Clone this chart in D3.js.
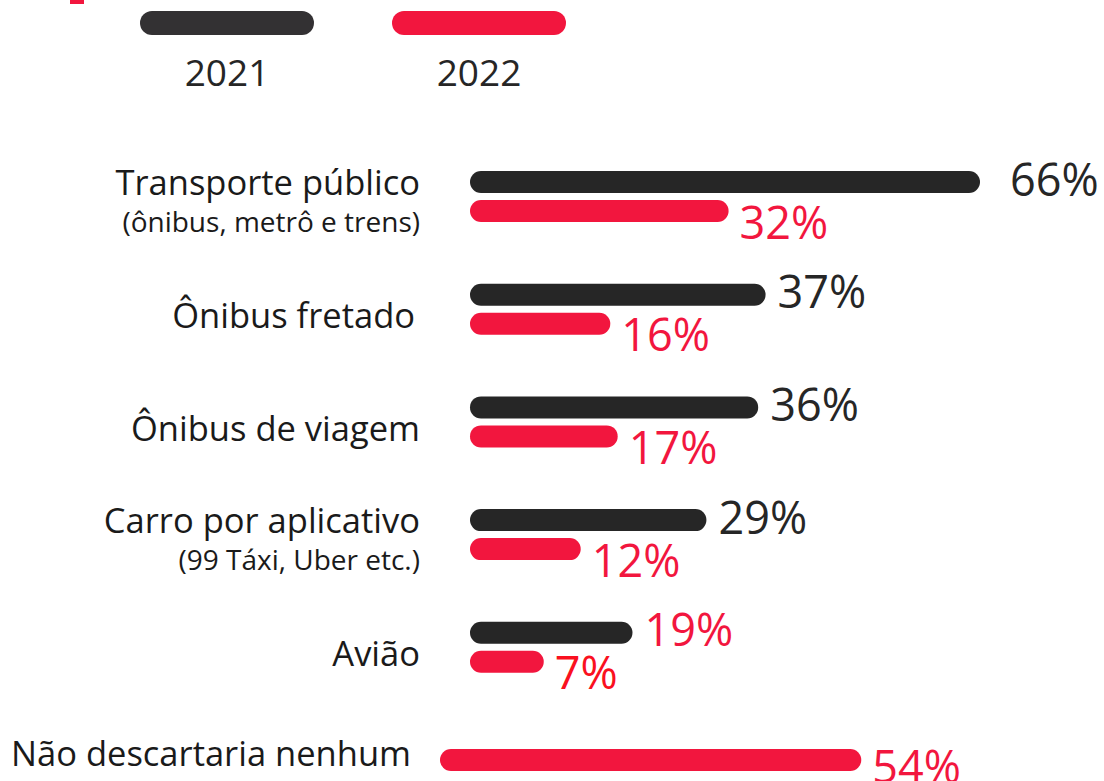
<!DOCTYPE html>
<html><head><meta charset="utf-8">
<script src="https://cdn.jsdelivr.net/npm/d3@7"></script>
<style>html,body{margin:0;padding:0;background:#fff;}svg{display:block;}</style>
</head><body>
<script>
const categories = ["Transporte público", "Ônibus fretado", "Ônibus de viagem", "Carro por aplicativo", "Avião", "Não descartaria nenhum"];
const subtitles = ["(ônibus, metrô e trens)", "", "", "(99 Táxi, Uber etc.)", "", ""];
const values2021 = [66, 37, 36, 29, 19, null];
const values2022 = [32, 16, 17, 12, 7, 54];
const years = ["2021", "2022"];

const W = 1104, H = 781;
const DARK = "#262626", RED = "#f2163e", TEXT = "#1a1a1a";
const FONT = "'Open Sans', 'Noto Sans', sans-serif";
const svg = d3.select("body").append("svg").attr("width", W).attr("height", H);

// small red mark at top-left
svg.append("rect").attr("x", 70).attr("y", 0).attr("width", 14).attr("height", 4).attr("fill", RED);

// legend
const legX = d3.scalePoint().domain(years).range([227, 479]);
const legColor = d3.scaleOrdinal().domain(years).range(["#333133", RED]);
const leg = svg.append("g").selectAll("g").data(years).join("g");
leg.append("line")
  .attr("x1", d => legX(d) - 75).attr("x2", d => legX(d) + 75)
  .attr("y1", 23).attr("y2", 23)
  .attr("stroke", d => legColor(d)).attr("stroke-width", 24).attr("stroke-linecap", "round");
leg.append("text").attr("x", d => legX(d)).attr("y", 86)
  .attr("text-anchor", "middle").attr("font-family", FONT).attr("font-size", 37)
  .attr("fill", "#262626").text(d => d);

// scales
const y = d3.scalePoint().domain(categories).range([196.5, 760]);
const x = d3.scaleLinear().domain([0, 66]).range([0, 488]);
const lastCat = categories[categories.length - 1];
const x0 = c => c === lastCat ? 451 : 481;
const BW = 22, OFF = 14.5;

const rows = categories.map((c, i) => ({ c, sub: subtitles[i], v1: values2021[i], v2: values2022[i], i }));

const g = svg.append("g");
// category labels
rows.forEach(r => {
  const cy = y(r.c);
  const isLast = r.c === lastCat;
  const tx = isLast ? 411 : 420;
  if (r.sub) {
    g.append("text").attr("x", tx).attr("y", cy - 2).attr("text-anchor", "end")
      .attr("font-family", FONT).attr("font-size", 34.5).attr("fill", TEXT).text(r.c);
    g.append("text").attr("x", tx).attr("y", cy + 35).attr("text-anchor", "end")
      .attr("font-family", FONT).attr("font-size", 28).attr("fill", TEXT).text(r.sub);
  } else {
    g.append("text").attr("x", isLast ? tx : tx - (r.c === "Ônibus fretado" ? 5 : 0))
      .attr("y", cy + (isLast ? 6 : 19)).attr("text-anchor", "end")
      .attr("font-family", FONT).attr("font-size", 34.5).attr("fill", TEXT).text(r.c);
  }
});

// bars
const labelColor2021 = [DARK, DARK, DARK, DARK, RED, DARK];
const labelColor2022 = [RED, RED, RED, RED, "#fa1020", RED];
rows.forEach(r => {
  const cy = y(r.c);
  const isLast = r.c === lastCat;
  const start = x0(r.c);
  if (r.v1 != null) {
    const yy = cy - OFF;
    g.append("line").attr("x1", start).attr("x2", start + x(r.v1))
      .attr("y1", yy).attr("y2", yy).attr("stroke", DARK)
      .attr("stroke-width", BW).attr("stroke-linecap", "round");
    g.append("text").attr("x", start + x(r.v1) + BW / 2 + (r.i === 0 ? 30 : 12)).attr("y", yy - 4)
      .attr("dominant-baseline", "central").attr("font-family", FONT).attr("font-size", 45)
      .attr("fill", labelColor2021[r.i]).text(r.v1 + "%");
  }
  if (r.v2 != null) {
    const yy = isLast ? cy : cy + OFF;
    g.append("line").attr("x1", start).attr("x2", start + x(r.v2))
      .attr("y1", yy).attr("y2", yy).attr("stroke", RED)
      .attr("stroke-width", BW).attr("stroke-linecap", "round");
    g.append("text").attr("x", start + x(r.v2) + BW / 2 + 11).attr("y", yy + (isLast ? 5 : 10))
      .attr("dominant-baseline", "central").attr("font-family", FONT).attr("font-size", 45)
      .attr("fill", labelColor2022[r.i]).text(r.v2 + "%");
  }
});
</script>
</body></html>
